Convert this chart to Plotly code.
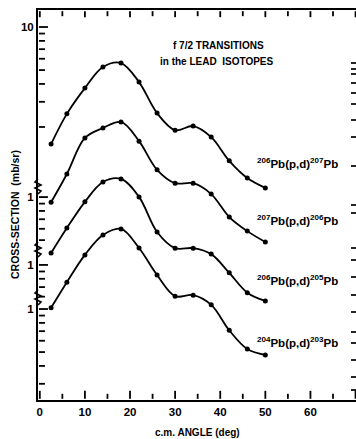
import math
import plotly.graph_objects as go

# ---- data ----
angles = [2.5, 6, 10, 14, 18, 22, 26, 30, 34, 38, 42, 46, 50]

pb206_207 = [1.52, 2.47, 3.74, 5.25, 5.60, 4.12, 2.50, 1.90, 2.03, 1.70, 1.16, 0.88, 0.75]
pb207_206 = [0.92, 1.45, 2.59, 3.04, 3.35, 2.46, 1.55, 1.25, 1.25, 1.05, 0.725, 0.578, 0.485]
pb206_205 = [1.21, 1.81, 2.76, 3.80, 3.99, 2.99, 1.70, 1.31, 1.31, 1.19, 0.88, 0.64, 0.56]
pb204_203 = [1.02, 1.54, 2.39, 3.29, 3.63, 2.67, 1.73, 1.23, 1.25, 1.07, 0.71, 0.525, 0.477]

series = [pb206_207, pb207_206, pb206_205, pb204_203]
# vertical displacement factors of the stacked curves (log axis offsets)
display_scale = [1.0, 0.647, 0.217, 0.1067]

labels = ["<b><sup>206</sup>Pb(p,d)<sup>207</sup>Pb</b>",
          "<b><sup>207</sup>Pb(p,d)<sup>206</sup>Pb</b>",
          "<b><sup>206</sup>Pb(p,d)<sup>205</sup>Pb</b>",
          "<b><sup>204</sup>Pb(p,d)<sup>203</sup>Pb</b>"]

x_ticks = [0, 10, 20, 30, 40, 50, 60, 70]
x_minor = [5, 15, 25, 35, 45, 55, 65]

# ---- geometry helpers (plot area in pixels) ----
W, H = 356, 439
L, R, T, B = 38, 356, 10, 400
LOG_TOP, LOG_BOT = 1.119, -1.608
X_RANGE = [-0.4, 70.1]

def px_x(x):
    return (x - L) / (R - L)

def px_y(y):
    return (B - y) / (B - T)

def val_paper(v):
    return (math.log10(v) - LOG_BOT) / (LOG_TOP - LOG_BOT)

def deg_paper(d):
    return (d - X_RANGE[0]) / (X_RANGE[1] - X_RANGE[0])

FONT = "Liberation Sans"
fig = go.Figure()

for vals, s in zip(series, display_scale):
    fig.add_trace(go.Scatter(
        x=angles, y=[v * s for v in vals], mode="lines+markers",
        line=dict(color="black", width=1.8, shape="spline", smoothing=1.0),
        marker=dict(color="black", size=5),
        showlegend=False, hoverinfo="skip"))

# left axis: each curve has its own decade labels
major_vals = [10 * display_scale[0], display_scale[1], display_scale[2], display_scale[3]]
major_text = ["<b>10</b>", "<b>1</b>", "<b>1</b>", "<b>1</b>"]
minor_vals = [v * display_scale[0] for v in [9, 8, 7, 6, 5, 4, 3, 2]]
minor_vals += [v * display_scale[1] for v in [0.9, 0.8, 0.7, 0.6, 0.5]]
minor_vals += [v * display_scale[2] for v in [0.9, 0.8, 0.7, 0.6]]
minor_vals += [v * display_scale[3] for v in [0.9, 0.8, 0.7, 0.6, 0.5, 0.4, 0.3]]

# right-hand tick marks (pixel rows in the original frame)
right_px = [63, 69, 74, 83, 93, 104, 120, 137, 166, 205, 213, 248, 260, 277,
            295, 312, 332, 343, 360, 377, 390]

tickfont = dict(size=11.5, family=FONT, color="black")

fig.update_layout(
    width=W, height=H,
    margin=dict(l=L, r=W - R, t=T, b=H - B),
    paper_bgcolor="white", plot_bgcolor="white",
    font=dict(family=FONT, color="black"),
    showlegend=False,
    xaxis=dict(range=X_RANGE, showgrid=False, zeroline=False,
               showline=True, linecolor="black", linewidth=2, mirror=True,
               ticks="", tickmode="array", tickvals=x_ticks,
               ticktext=[f"<b>{t}</b>" for t in x_ticks], tickfont=tickfont),
    yaxis=dict(type="log", range=[LOG_BOT, LOG_TOP], showgrid=False, zeroline=False,
               showline=True, linecolor="black", linewidth=2,
               ticks="", tickmode="array", tickvals=major_vals, ticktext=major_text,
               tickfont=tickfont),
)

def add_ticks(segs, width=1.8):
    for x0, y0, x1, y1 in segs:
        fig.add_shape(type="line", x0=x0, y0=y0, x1=x1, y1=y1, xref="paper",
                      yref="paper", line=dict(color="black", width=width))

# left axis ticks
add_ticks([(0.003, val_paper(v), 0.003 + 9 / (R - L), val_paper(v)) for v in major_vals])
add_ticks([(0.003, val_paper(v), 0.003 + 6 / (R - L), val_paper(v)) for v in minor_vals])
# bottom and top ticks
segs = []
for d in x_ticks:
    p = deg_paper(d)
    segs += [(p, 0.003, p, 0.003 + 8 / (B - T)), (p, 0.997, p, 0.997 - 6 / (B - T))]
for d in x_minor:
    p = deg_paper(d)
    segs += [(p, 0.003, p, 0.003 + 5 / (B - T)), (p, 0.997, p, 0.997 - 5 / (B - T))]
add_ticks(segs)
# right-hand ticks
add_ticks([(1, px_y(p), 1 - 5 / (R - L), px_y(p)) for p in right_px], 1.7)

anns = []
anns.append(dict(x=px_x(218), y=px_y(45), text="<b>f 7/2 TRANSITIONS</b>"))
anns.append(dict(x=px_x(216), y=px_y(62), text="<b>in the LEAD  ISOTOPES</b>"))
for lab, yp in zip(labels, [163, 220, 280, 342]):
    anns.append(dict(x=px_x(297), y=px_y(yp), text=lab, font_size=11.5))
anns.append(dict(x=px_x(197), y=px_y(432), text="<b>c.m. ANGLE (deg)</b>"))
anns.append(dict(x=px_x(15), y=px_y(215), text="<b>CROSS-SECTION  (mb/sr)</b>",
                 textangle=-90, font_size=10.5))
for a in anns:
    a.update(xref="paper", yref="paper", showarrow=False, xanchor="center",
             yanchor="middle")
    a["font"] = dict(family=FONT, size=a.pop("font_size", 10), color="black")
fig.update_layout(annotations=anns)

# axis-break squiggles on the left axis
for yb in [186, 249, 297]:
    pts = [(38, yb - 7), (35, yb - 4), (41, yb - 1), (35, yb + 2), (41, yb + 5), (38, yb + 8)]
    path = "M " + " L ".join(f"{px_x(x):.4f},{px_y(y):.4f}" for x, y in pts)
    fig.add_shape(type="path", path=path, xref="paper", yref="paper",
                  line=dict(color="black", width=1.6))

fig.write_html("out.html")
